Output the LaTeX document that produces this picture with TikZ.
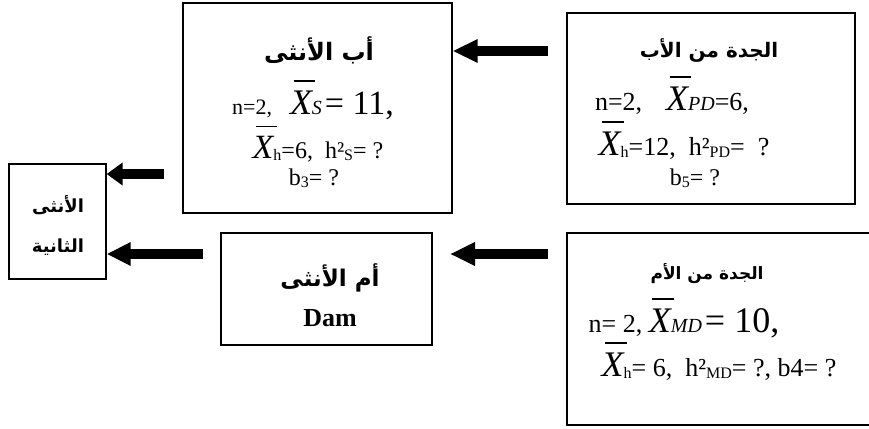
\documentclass[tikz,border=0pt]{standalone}
\usepackage{fontspec}
\setmainfont{Liberation Serif}
\newfontfamily\arabicfont[Script=Arabic]{DejaVu Sans}
\TeXXeTstate=1
\usetikzlibrary{arrows.meta}
\newcommand{\myfs}[1]{\fontsize{#1}{#1}\selectfont}
\newcommand{\Xb}{{\itshape\rlap{\hspace{0.1em}\rule[0.9em]{0.6em}{0.05em}}X}}
\newcommand{\lo}[1]{\raisebox{-0.25ex}{\myfs{16}#1}}
\tikzset{
  box/.style={draw, line width=1.3pt, inner sep=0pt},
  bigarrow/.style={line width=10pt, -{Triangle[length=#1,width=22pt]}},
  bigarrow/.default=23pt,
  artitle/.style={inner sep=0pt, font=\arabicfont\bfseries\myfs{20}},
  ln/.style={inner sep=0pt, font=\myfs{24}, anchor=base},
}
\begin{document}
\begin{tikzpicture}[x=1pt,y=-1pt]
\useasboundingbox (0,0) rectangle (869,428);
% boxes
\node[box, minimum width=269pt, minimum height=210pt] (fs) at (317.5,108) {};
\node[box, minimum width=288pt, minimum height=191pt] (pgm) at (711,108.5) {};
\node[box, minimum width=97pt, minimum height=115pt] (off) at (57.5,221.5) {};
\node[box, minimum width=211pt, minimum height=112pt] (dam) at (326.5,289) {};
\node[box, minimum width=305pt, minimum height=192pt] (mgm) at (719.5,329) {};
% texts: sire of female
\node[artitle, font=\arabicfont\bfseries\myfs{24}] (fs1) at (319,50) {\beginR أب الأنثى\endR};
\node[ln, font=\myfs{22}] (fs2) at (313,114) {n=2,\hspace{18pt}{\myfs{36}\Xb}{\myfs{20}\itshape S}\hspace{3pt}{\myfs{34}= 11,}};
\node[ln] (fs3) at (318,158) {{\myfs{34}\Xb}\lo{h}=6,\ \ h²\lo{S}= ?};
\node[ln] (fs4) at (314,185) {b\lo{3}= ?};
% paternal granddam
\node[artitle] (pg1) at (709,50) {\beginR الجدة من الأب\endR};
\node[ln, font=\myfs{26}] (pg2) at (672,110) {n=2,\hspace{24pt}{\myfs{36}\Xb}{\myfs{20}\itshape PD}=6,};
\node[ln, font=\myfs{26}] (pg3) at (684,155) {{\myfs{36}\Xb}\lo{h}=12,\ \ h²\lo{PD}=\ \ ?};
\node[ln] (pg4) at (695,185) {b\lo{5}= ?};
% offspring
\node[artitle, font=\arabicfont\bfseries\myfs{18}] (of1) at (58,205) {\beginR الأنثى\endR};
\node[artitle, font=\arabicfont\bfseries\myfs{18}] (of2) at (58,247) {\beginR الثانية\endR};
% dam
\node[artitle, font=\arabicfont\bfseries\myfs{23}] (dm1) at (330,278) {\beginR أم الأنثى\endR};
\node[ln, font=\myfs{26}\bfseries, anchor=center] (dm2) at (330,318) {Dam};
% maternal granddam
\node[artitle, font=\arabicfont\bfseries\myfs{17}] (mg1) at (707,274) {\beginR الجدة من الأم\endR};
\node[ln, font=\myfs{26}] (mg2) at (684,332) {n= 2, {\myfs{36}\Xb}{\myfs{20}\itshape MD}\hspace{3pt}{\myfs{36}= 10,}};
\node[ln, font=\myfs{26}] (mg3) at (719,376) {{\myfs{36}\Xb}\lo{h}= 6,\ \ h²\lo{MD}= ?, b4= ?};
% arrows
\coordinate (a1t) at (548,51);
\draw[bigarrow=25pt] (a1t) -- (fs.east |- a1t);
\coordinate (a2t) at (548,254);
\coordinate (a2h) at (450,254);
\draw[bigarrow=25pt] (a2t) -- (a2h);
\coordinate (a3t) at (164,174);
\draw[bigarrow=16pt] (a3t) -- (off.east |- a3t);
\coordinate (a4t) at (203,254);
\draw[bigarrow=24pt] (a4t) -- (off.east |- a4t);
\end{tikzpicture}
\end{document}
